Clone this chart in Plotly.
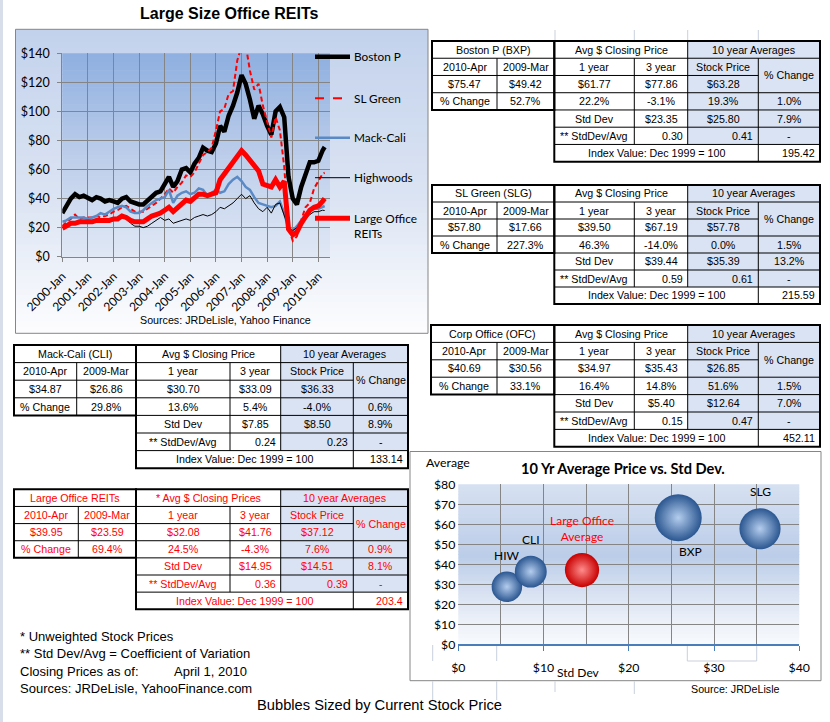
import plotly.graph_objects as go

W, H = 830, 722
ARIAL = "Liberation Sans, Arial, sans-serif"
CAL = "Lato, Calibri, sans-serif"

# ---------------- line chart data (every two months, plus 2010-Apr) ----------------
DATES = [f"{y}-{m:02d}-01" for y in range(2000, 2010) for m in (1, 3, 5, 7, 9, 11)]
DATES += ["2010-01-01", "2010-03-01", "2010-04-01"]

BOSTON = [30, 35, 40, 43, 41, 42,
          40, 39, 41, 40, 38, 39,
          38, 37, 40, 41, 38, 37,
          36, 36, 39, 42, 44, 45,
          50, 55, 48, 52, 60, 61,
          58, 64, 68, 75, 73, 72,
          78, 90, 86, 97, 104, 113,
          125, 119, 108, 95, 104, 98,
          90, 84, 100, 103, 96, 55,
          40, 36, 48, 57, 65, 65,
          66, 73, 75.5]
SLGREEN = [21, 24, 26, 29, 26, 27,
           27, 27, 28, 27, 28, 29,
           31, 32, 34, 35, 33, 31,
           31, 31, 33, 35, 37, 40,
           43, 47, 44, 48, 51, 56,
           55, 58, 64, 70, 72, 75,
           87, 100, 102, 112, 114, 135,
           145, 146, 128, 115, 119, 104,
           93, 82, 96, 87, 62, 20,
           11, 14, 25, 34, 37, 47,
           52, 57, 57.8]
MACKCALI = [24, 25, 27, 27, 27, 27,
            26, 27, 28, 30, 29, 31,
            33, 34, 35, 34, 31, 30,
            30, 32, 35, 37, 39, 40,
            41, 46, 37, 42, 44, 45,
            43, 44, 47, 46, 42, 44,
            46, 44, 45, 50, 53, 55,
            52, 48, 46, 41, 37, 36,
            35, 34, 35, 38, 30, 19,
            18, 21, 25, 29, 32, 33,
            33, 34, 34.9]
HIGHWOODS = [20, 22, 24, 24, 23, 23,
             23, 23, 24, 24, 24, 24,
             25, 26, 27, 26, 23, 21,
             21, 20, 21, 23, 25, 27,
             25, 26, 23, 24, 25, 26,
             25, 27, 28, 29, 28, 29,
             31, 34, 33, 35, 37, 40,
             43, 40, 42, 37, 33, 31,
             34, 30, 36, 37, 29, 20,
             18, 20, 23, 26, 29, 31,
             31, 32, 31.8]
LARGEOFFICE = [19.5, 21, 23, 23, 24, 24,
               24, 24, 25, 25, 25, 25,
               26, 26, 28, 27, 25, 24,
               24, 24, 26, 28, 29, 30,
               32, 34, 31, 34, 37, 39,
               38, 41, 43, 43, 42, 43,
               44, 53, 57, 60, 64, 69,
               73, 70, 66, 63, 59, 50,
               49, 48, 53, 48, 52, 19,
               15, 17, 23, 27, 32, 34,
               35, 38, 40]
SERIES_NAMES = ["Boston P", "SL Green", "Mack-Cali", "Highwoods", "Large Office<br>REITs"]
YEAR_TICKS = [f"{y}-01-01" for y in range(2000, 2011)]

# ---------------- bubble chart data ----------------
BUB_LABELS = ["HIW", "CLI", "Large Office<br>Average", "BXP", "SLG"]
BUB_STD = [5.7, 8.50, 14.51, 25.80, 35.39]
BUB_AVG = [28.8, 36.33, 37.12, 63.28, 57.78]
BUB_PRICE = [31.8, 34.87, 39.95, 75.47, 57.80]
BUB_COLORS = ["blue", "blue", "red", "blue", "blue"]

# ---------------- table data ----------------
BXP_NAME = "Boston P (BXP)"
BXP_CLOSE = [75.47, 49.42]
BXP_AVG = [61.77, 77.86, 63.28]
BXP_CHG = [52.7, 22.2, -3.1, 19.3, 1.0]
BXP_STD = [23.35, 25.80, 7.9]
BXP_CV = [0.30, 0.41]
BXP_INDEX = 195.42

SLG_NAME = "SL Green (SLG)"
SLG_CLOSE = [57.80, 17.66]
SLG_AVG = [39.50, 67.19, 57.78]
SLG_CHG = [227.3, 46.3, -14.0, 0.0, 1.5]
SLG_STD = [39.44, 35.39, 13.2]
SLG_CV = [0.59, 0.61]
SLG_INDEX = 215.59

OFC_NAME = "Corp Office (OFC)"
OFC_CLOSE = [40.69, 30.56]
OFC_AVG = [34.97, 35.43, 26.85]
OFC_CHG = [33.1, 16.4, 14.8, 51.6, 1.5]
OFC_STD = [5.40, 12.64, 7.0]
OFC_CV = [0.15, 0.47]
OFC_INDEX = 452.11

CLI_NAME = "Mack-Cali (CLI)"
CLI_CLOSE = [34.87, 26.86]
CLI_AVG = [30.70, 33.09, 36.33]
CLI_CHG = [29.8, 13.6, 5.4, -4.0, 0.6]
CLI_STD = [7.85, 8.50, 8.9]
CLI_CV = [0.24, 0.23]
CLI_INDEX = 133.14

LO_NAME = "Large Office REITs"
LO_CLOSE = [39.95, 23.59]
LO_AVG = [32.08, 41.76, 37.12]
LO_CHG = [69.4, 24.5, -4.3, 7.6, 0.9]
LO_STD = [14.95, 14.51, 8.1]
LO_CV = [0.36, 0.39]
LO_INDEX = 203.4

NOTES = ["* Unweighted Stock Prices",
         "** Std Dev/Avg = Coefficient of Variation",
         "Closing Prices as of:",
         "Sources: JRDeLisle, YahooFinance.com"]
AS_OF = "April 1, 2010"

# ---------------- helpers ----------------
shapes, annotations = [], []


def px(x):
    return x / W


def py(y):
    return 1 - y / H


def hex2rgb(h):
    h = h.lstrip('#')
    return tuple(int(h[i:i + 2], 16) for i in (0, 2, 4))


def lerp(stops, t):
    for (t0, c0), (t1, c1) in zip(stops, stops[1:]):
        if t0 <= t <= t1:
            f = (t - t0) / (t1 - t0) if t1 > t0 else 0
            a, b = hex2rgb(c0), hex2rgb(c1)
            return 'rgb(%d,%d,%d)' % tuple(round(a[i] + (b[i] - a[i]) * f) for i in range(3))
    return stops[-1][1]


def rect(x0, y0, x1, y1, fill='rgba(0,0,0,0)', lc='rgba(0,0,0,0)', lw=0, layer='below'):
    shapes.append(dict(type='rect', xref='paper', yref='paper', x0=px(x0), x1=px(x1),
                       y0=py(y1), y1=py(y0), fillcolor=fill,
                       line=dict(color=lc, width=lw), layer=layer))


def line(x0, y0, x1, y1, color='black', lw=1, dash='solid', layer='above'):
    shapes.append(dict(type='line', xref='paper', yref='paper', x0=px(x0), x1=px(x1),
                       y0=py(y0), y1=py(y1), line=dict(color=color, width=lw, dash=dash), layer=layer))


def grad(x0, y0, x1, y1, stops, n=48):
    for i in range(n):
        t0, t1 = i / n, (i + 1) / n
        ya = y0 + (y1 - y0) * t0
        yb = y0 + (y1 - y0) * t1 + (0.6 if i < n - 1 else 0)
        rect(x0, ya, x1, yb, fill=lerp(stops, (t0 + t1) / 2))


def text(x, y, s, size=10.7, color='black', family=ARIAL, anchor='center', bold=False):
    if bold:
        s = f"<b>{s}</b>"
    annotations.append(dict(xref='paper', yref='paper', x=px(x), y=py(y), text=s,
                            showarrow=False, xanchor=anchor, yanchor='middle',
                            font=dict(size=size, color=color, family=family)))


def money(v):
    return f"${v:.2f}"


def pct(v):
    return f"{v:.1f}%"


SHADE = '#dae3f3'


def draw_table(cols, top, rh, name, avg_hdr, close, avg, chg, std, cv, index, color='black'):
    c0, c1, c2, c3, c4, c5, c6 = cols
    r = [top + i * rh for i in range(8)]
    rect(c0, r[0], c2, r[4], fill='white')
    rect(c2, r[0], c4, r[7], fill='white')
    rect(c4, r[6], c6, r[7], fill='white')
    rect(c4, r[0], c6, r[6], fill=SHADE)
    for y in (r[1], r[2], r[3]):
        line(c0, y, c2, y)
    line(c2, r[1], c6, r[1])
    line(c2, r[2], c5, r[2])
    for y in (r[3], r[4], r[5], r[6]):
        line(c2, y, c6, y)
    line(c1, r[1], c1, r[4])
    line(c3, r[1], c3, r[6])
    line(c4, r[0], c4, r[6])
    line(c5, r[1], c5, r[7])
    rect(c0, r[0], c2, r[4], lc='black', lw=2, layer='above')
    rect(c2, r[0], c6, r[7], lc='black', lw=2, layer='above')
    m = [(r[i] + r[i + 1]) / 2 for i in range(7)]
    T = lambda x, y, s, a='center': text(x, y, s, color=color, anchor=a)
    T((c0 + c2) / 2, m[0], name)
    T((c2 + c4) / 2, m[0], avg_hdr)
    T((c4 + c6) / 2, m[0], "10 year Averages")
    T((c0 + c1) / 2, m[1], "2010-Apr")
    T((c1 + c2) / 2, m[1], "2009-Mar")
    T((c2 + c3) / 2, m[1], "1 year")
    T((c3 + c4) / 2, m[1], "3 year")
    T((c4 + c5) / 2, m[1], "Stock Price")
    T((c5 + c6) / 2, r[2], "% Change")
    T((c0 + c1) / 2, m[2], money(close[0]))
    T((c1 + c2) / 2, m[2], money(close[1]))
    T((c2 + c3) / 2, m[2], money(avg[0]))
    T((c3 + c4) / 2, m[2], money(avg[1]))
    T((c4 + c5) / 2, m[2], money(avg[2]))
    T((c0 + c1) / 2, m[3], "% Change")
    T((c1 + c2) / 2, m[3], pct(chg[0]))
    T((c2 + c3) / 2, m[3], pct(chg[1]))
    T((c3 + c4) / 2, m[3], pct(chg[2]))
    T((c4 + c5) / 2, m[3], pct(chg[3]))
    T((c5 + c6) / 2, m[3], pct(chg[4]))
    T((c2 + c3) / 2, m[4], "Std Dev")
    T((c3 + c4) / 2, m[4], money(std[0]))
    T((c4 + c5) / 2, m[4], money(std[1]))
    T((c5 + c6) / 2, m[4], pct(std[2]))
    T((c2 + c3) / 2, m[5], "** StdDev/Avg")
    T(c4 - 3, m[5], f"{cv[0]:.2f}", 'right')
    T(c5 - 3, m[5], f"{cv[1]:.2f}", 'right')
    T((c5 + c6) / 2, m[5], "-")
    T((c2 + c5) / 2, m[6], "Index Value: Dec 1999 = 100")
    T(c6 - 3, m[6], f"{index:g}", 'right')


# ---------------- background pieces ----------------
rect(0, 0, 3, H, fill='#d8dfea')
GRID_LIGHT = '#c9d0dc'
for x in (555, 634.3, 687.7, 758.3):
    line(x, 30, x, 41, GRID_LIGHT, 1, layer='below')

# line chart area
LC = dict(x0=15.5, y0=29.3, x1=428, y1=333.3)
grad(LC['x0'], LC['y0'], LC['x1'], LC['y1'], [(0, '#c3d2ec'), (0.55, '#dbe4f3'), (1, '#fdfdfe')])
PLOT1 = dict(x0=62.3, y0=53.3, x1=330, y1=256.7)
grad(PLOT1['x0'], PLOT1['y0'], PLOT1['x1'], PLOT1['y1'], [(0, '#8eafe0'), (0.5, '#bccdea'), (1, '#e0e8f5')])
rect(LC['x0'], LC['y0'], LC['x1'], LC['y1'], lc='#868686', lw=1, layer='above')

# bubble chart area
BC = dict(x0=410, y0=451.5, x1=821, y1=680.7)
rect(BC['x0'], BC['y0'], BC['x1'], BC['y1'], fill='white')
for x in (432.7, 496.7, 687.3, 756.7):
    line(x, 645, x, 661, GRID_LIGHT, 1, layer='below')
line(687.3, 661, 756.7, 661, GRID_LIGHT, 1, layer='below')
PLOT2 = dict(x0=458.3, y0=484.3, x1=799.3, y1=644.3)
grad(PLOT2['x0'], PLOT2['y0'], PLOT2['x1'], PLOT2['y1'],
     [(0, '#d6e0f1'), (0.45, '#bccde9'), (0.8, '#e6ecf6'), (1, '#f8fafd')])
rect(BC['x0'], BC['y0'], BC['x1'], BC['y1'], lc='#868686', lw=1, layer='above')
for x, y1 in ((432.7, 700), (496.7, 700), (555, 692), (634.3, 694)):
    line(x, 681.5, x, y1, GRID_LIGHT, 1, layer='below')

# ---------------- tables ----------------
draw_table([432, 497, 554.3, 634.3, 687.7, 758.3, 820], 41, 17.24, BXP_NAME, "Avg $ Closing Price",
           BXP_CLOSE, BXP_AVG, BXP_CHG, BXP_STD, BXP_CV, BXP_INDEX)
draw_table([432, 497, 554.3, 634.3, 687.7, 758.3, 820], 185, 17.0, SLG_NAME, "Avg $ Closing Price",
           SLG_CLOSE, SLG_AVG, SLG_CHG, SLG_STD, SLG_CV, SLG_INDEX)
draw_table([431, 497, 554.3, 634.3, 687.7, 758.3, 820], 325, 17.4, OFC_NAME, "Avg $ Closing Price",
           OFC_CLOSE, OFC_AVG, OFC_CHG, OFC_STD, OFC_CV, OFC_INDEX)
draw_table([14, 76.7, 136, 230, 280.7, 353.3, 408], 345, 17.6, CLI_NAME, "Avg $ Closing Price",
           CLI_CLOSE, CLI_AVG, CLI_CHG, CLI_STD, CLI_CV, CLI_INDEX)
draw_table([14, 78.3, 136, 230, 280.7, 353.3, 408], 489.3, 17.14, LO_NAME, "* Avg $ Closing Prices",
           LO_CLOSE, LO_AVG, LO_CHG, LO_STD, LO_CV, LO_INDEX, color='#ff0000')

# ---------------- texts ----------------
text(229, 13, "Large Size Office REITs", size=16, family=ARIAL, bold=True)
text(225.5, 320, "Sources: JRDeLisle, Yahoo Finance", size=10.7)
text(623, 468.3, "10 Yr Average Price vs. Std Dev.", size=14.6, family=CAL, bold=True)
text(424, 462, "Average", size=12.3, family=CAL, anchor='left')
text(578, 672, "Std Dev", size=12, family=CAL)
text(735, 688.5, "Source: JRDeLisle", size=10.7)
text(379, 704.5, "Bubbles Sized by Current Stock Price", size=14.7)
for s, y in zip(NOTES, (636.7, 653.3, 671, 688.3)):
    text(18, y, s, size=13, anchor='left')
text(172.3, 671, AS_OF, size=13, anchor='left')

# ---------------- line chart traces ----------------
STYLES = [dict(color='black', width=4.5),
          dict(color='#ff0000', width=2, dash='5px,3px'),
          dict(color='#5a8ac6', width=2.5),
          dict(color='black', width=1),
          dict(color='#ff0000', width=5)]
fig = go.Figure()
for vals, st in zip([BOSTON, SLGREEN, MACKCALI, HIGHWOODS, LARGEOFFICE], STYLES):
    fig.add_trace(go.Scatter(x=DATES, y=vals, mode='lines', line=st, xaxis='x', yaxis='y',
                             showlegend=False, hoverinfo='skip'))

# custom legend
LEG_Y = [56.7, 98.3, 137.7, 177.7, 218.3]
for name, st, y in zip(SERIES_NAMES, STYLES, LEG_Y):
    line(315, y, 350, y, st['color'], st['width'], 'dash' if 'dash' in st else 'solid')
    yy = y + 8 if '<br>' in name else y
    annotations.append(dict(xref='paper', yref='paper', x=px(352), y=py(yy), text=name, showarrow=False,
                            xanchor='left', yanchor='middle', align='left',
                            font=dict(size=11.8, family=CAL, color='black')))

# ---------------- bubble traces ----------------
SIZEREF = 2 * max(BUB_PRICE) / 47 ** 2
for col, c_center, c_edge in (("blue", '#b4cdee', '#2a5690'), ("red", '#ff8c8c', '#c80000')):
    idx = [i for i, c in enumerate(BUB_COLORS) if c == col]
    fig.add_trace(go.Scatter(x=[BUB_STD[i] for i in idx], y=[BUB_AVG[i] for i in idx], mode='markers',
                             marker=dict(size=[BUB_PRICE[i] for i in idx], sizemode='area', sizeref=SIZEREF,
                                         color=c_edge, opacity=1, line=dict(width=0),
                                         gradient=dict(type='radial', color=c_center)),
                             xaxis='x2', yaxis='y2', showlegend=False, hoverinfo='skip'))

LABEL_SHIFT = [(0, 31), (0, 32), (0, 42), (12, -34), (0, 37)]
for lab, xv, yv, (dx, dy), col in zip(BUB_LABELS, BUB_STD, BUB_AVG, LABEL_SHIFT, BUB_COLORS):
    annotations.append(dict(xref='x2', yref='y2', x=xv, y=yv, xshift=dx, yshift=dy, text=lab,
                            showarrow=False, xanchor='center', yanchor='middle',
                            font=dict(size=12, family=CAL, color='#ff0000' if col == 'red' else 'black')))

GRIDC = '#858585'
fig.update_layout(
    template='none',
    width=W, height=H, margin=dict(l=0, r=0, t=0, b=0, pad=0, autoexpand=False),
    paper_bgcolor='white', plot_bgcolor='rgba(0,0,0,0)', hovermode=False, showlegend=False,
    xaxis=dict(domain=[px(PLOT1['x0']), px(PLOT1['x1'])], anchor='y', type='date', automargin=False,
               range=['2000-01-01', '2010-06-16'], tickvals=YEAR_TICKS, tickformat='%Y-%b',
               tickangle=-45, showgrid=True, gridcolor=GRIDC, gridwidth=1,
               ticks='outside', ticklen=4, tickcolor=GRIDC, showline=True, linecolor=GRIDC,
               zeroline=False, ticklabelstandoff=3,
               tickfont=dict(family=CAL, size=12, color='black'), fixedrange=True),
    yaxis=dict(domain=[py(PLOT1['y1']), py(PLOT1['y0'])], anchor='x', range=[0, 140], dtick=20,
               automargin=False,
               tickprefix='$', showgrid=True, gridcolor=GRIDC, gridwidth=1, ticks='outside',
               ticklen=4, tickcolor=GRIDC, showline=True, linecolor=GRIDC, zeroline=False,
               ticklabelstandoff=5,
               tickfont=dict(family=CAL, size=12.5, color='black'), fixedrange=True),
    xaxis2=dict(domain=[px(PLOT2['x0']), px(PLOT2['x1'])], anchor='y2', range=[0, 40], dtick=10,
                automargin=False,
                tickprefix='$', showgrid=True, gridcolor=GRIDC, gridwidth=1,
                minor=dict(dtick=5, showgrid=True, gridcolor=GRIDC, gridwidth=1),
                ticks='outside', ticklen=5, tickcolor='#4a7ebb', showline=True, linecolor='#4a7ebb',
                linewidth=1.5, zeroline=False, ticklabelstandoff=6,
                tickfont=dict(family=CAL, size=12.3, color='black'), fixedrange=True),
    yaxis2=dict(domain=[py(PLOT2['y1']), py(PLOT2['y0'])], anchor='x2', range=[0, 80], dtick=10,
                automargin=False,
                tickprefix='$', showgrid=True, gridcolor=GRIDC, gridwidth=1, zeroline=False,
                showline=False, ticks='', ticklabelstandoff=2,
                tickfont=dict(family=CAL, size=12.3, color='black'), fixedrange=True),
    shapes=shapes, annotations=annotations,
)

fig.write_html("out.html", config={'displayModeBar': False})
